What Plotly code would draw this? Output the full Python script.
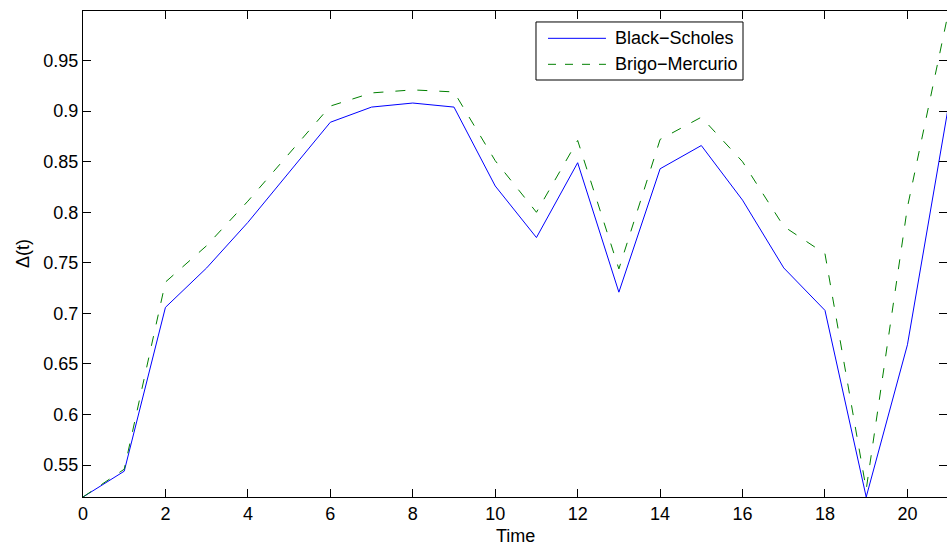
import plotly.graph_objects as go

# ---- data ----
time = list(range(22))
black_scholes = [0.5185, 0.544, 0.706, 0.745, 0.790, 0.839, 0.889, 0.904, 0.908, 0.904,
                 0.826, 0.775, 0.849, 0.721, 0.843, 0.866, 0.812, 0.745, 0.703, 0.5185,
                 0.669, 0.906]
brigo_mercurio = [0.5185, 0.546, 0.731, 0.767, 0.811, 0.858, 0.905, 0.918, 0.921, 0.919,
                  0.851, 0.800, 0.871, 0.744, 0.872, 0.894, 0.850, 0.786, 0.759, 0.526,
                  0.805, 0.999]
series_names = ["Black\u2212Scholes", "Brigo\u2212Mercurio"]
x_ticks = list(range(0, 21, 2))
y_ticks = [0.55, 0.6, 0.65, 0.7, 0.75, 0.8, 0.85, 0.9, 0.95]
y_tick_labels = ["0.55", "0.6", "0.65", "0.7", "0.75", "0.8", "0.85", "0.9", "0.95"]
x_title = "Time"
y_title = "\u0394(t)"

FONT = "Liberation Sans, Arial, Helvetica, sans-serif"
BLUE = "#0000ff"
GREEN = "#008000"

ymin = min(min(black_scholes), min(brigo_mercurio))
ymax = max(max(black_scholes), max(brigo_mercurio))

fig = go.Figure()
fig.add_trace(go.Scatter(x=time, y=black_scholes, mode="lines", name=series_names[0],
                         line=dict(color=BLUE, width=1), showlegend=False,
                         hoverinfo="skip"))
fig.add_trace(go.Scatter(x=time, y=brigo_mercurio, mode="lines", name=series_names[1],
                         line=dict(color=GREEN, width=1, dash="10px,12px"),
                         showlegend=False, yaxis="y2", hoverinfo="skip"))

fig.update_layout(
    width=947, height=548,
    margin=dict(l=83, r=0, t=11, b=51, autoexpand=False),
    paper_bgcolor="white", plot_bgcolor="white",
    font=dict(family=FONT, size=18, color="black"),
    xaxis=dict(range=[0, 20.96], tickvals=x_ticks, ticks="inside", ticklen=8,
               tickcolor="black", showline=True, linecolor="black", linewidth=1,
               mirror="ticks", showgrid=False, zeroline=False, automargin=False,
               tickfont=dict(size=18)),
    yaxis=dict(range=[ymin, ymax], tickvals=y_ticks, ticktext=y_tick_labels,
               ticks="inside", ticklen=8, tickcolor="black", showline=True,
               linecolor="black", linewidth=1, mirror=False, showgrid=False,
               zeroline=False, tickfont=dict(size=18), automargin=False),
    yaxis2=dict(overlaying="y", matches="y", side="right", tickvals=y_ticks,
                ticks="inside", ticklen=8, tickcolor="black", showline=False,
                showticklabels=False, showgrid=False, zeroline=False,
                automargin=False),
)

# axis titles
fig.add_annotation(xref="paper", yref="paper", x=0.5, y=0, yshift=-39,
                   text=x_title, showarrow=False, xanchor="center", yanchor="middle",
                   font=dict(family=FONT, size=18, color="black"))
fig.add_annotation(xref="paper", yref="paper", x=0, y=0.5, xshift=-60,
                   text=y_title, showarrow=False, xanchor="center", yanchor="middle",
                   textangle=-90, font=dict(family=FONT, size=18, color="black"))

# ---- legend box (MATLAB style) ----
fig.add_shape(type="rect", xref="paper", yref="paper", x0=0.5243, x1=0.7639,
              y0=0.8580, y1=0.9774, line=dict(color="black", width=1),
              fillcolor="white", layer="above")
legend_y = [0.9438, 0.8903]
legend_styles = [dict(color=BLUE, width=1), dict(color=GREEN, width=1, dash="8px,9px")]
for name, yy, st in zip(series_names, legend_y, legend_styles):
    fig.add_shape(type="line", xref="paper", yref="paper", x0=0.5382, x1=0.6053,
                  y0=yy, y1=yy, line=st, layer="above")
    fig.add_annotation(xref="paper", yref="paper", x=0.6134, y=yy, text=name,
                       showarrow=False, xanchor="left", yanchor="middle",
                       font=dict(family=FONT, size=18, color="black"))

# place the figure at the page's top-left corner with no scrollbars
fig.write_html(
    "out.html",
    config={"displayModeBar": False, "staticPlot": True},
    post_script="document.body.style.margin='0';document.body.style.overflow='hidden';",
)
